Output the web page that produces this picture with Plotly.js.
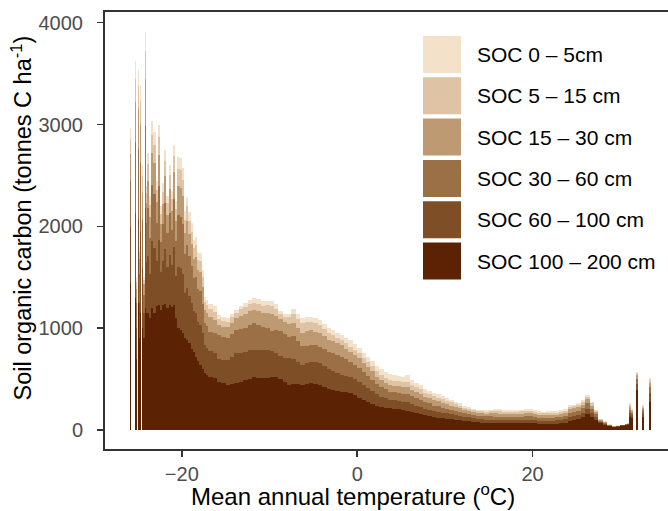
<!DOCTYPE html>
<html><head><meta charset="utf-8">
<script src="https://cdn.plot.ly/plotly-3.0.1.min.js"></script>
<style>html,body{margin:0;padding:0;background:#fff}#chart{width:668px;height:511px}</style>
</head><body><div id="chart"></div>
<script>
// Mean annual temperature bins (left edge, degC)
const tempBins = [-26,-25.875,-25.75,-25.625,-25.5,-25.375,-25.25,-25.125,-25,-24.875,-24.75,-24.625,-24.5,-24.375,-24.25,-24.125,
-24,-23.75,-23.5,-23.25,-23,-22.75,-22.5,-22.25,-22,-21.75,-21.5,-21.25,-21,-20.75,-20.5,-20.25,-20,-19.75,-19.5,-19.25,-19,-18.75,-18.5,-18.25,-18,-17.75,-17.5,-17.25,
-17,-16.5,-16,-15.5,-15,-14.5,-14,-13.5,-13,-12.5,-12,-11.5,-11,-10.5,-10,-9.5,-9,-8.5,-8,-7.5,-7,-6.5,-6,-5.5,-5,-4.5,-4,-3.5,-3,-2.5,-2,-1.5,-1,-0.5,0,0.5,1,1.5,2,2.5,3,3.5,4,4.5,5,5.5,6,6.5,7,7.5,8,8.5,9,9.5,10,10.5,11,11.5,12,12.5,13,13.5,14,14.5,15,15.5,16,16.5,17,17.5,18,18.5,19,19.5,20,20.5,21,21.5,22,22.5,23,23.5,24,24.5,25,25.5,26,26.5,27,27.5,28,28.5,29,29.5,30,
30.5,30.75,31,31.25,31.5,31.75,32,32.25,32.5,32.75,33,33.25];

// Soil organic carbon per depth layer (tonnes C / ha)
const soc100_200 = [0,1440,0,0,0,1300,700,0,1250,900,1150,0,1000,900,1200,1150,
1150,1100,1200,1150,1220,1230,1180,1230,1240,1200,1230,1210,1230,1100,1000,980,950,900,880,850,800,770,720,680,640,600,560,540,
520,508,470,459,442,450,459,475,491,505,520,515,508,515,520,525,500,470,440,455,450,442,450,459,450,442,420,400,390,380,376,368,360,340,311,295,275,258,240,228,220,213,208,205,196,190,180,168,155,145,135,124,120,115,110,104,98,94,88,84,78,75,72,70,68,66,66,65,65,64,65,65,66,66,64,62,60,60,62,63,66,72,90,100,108,125,160,125,98,65,50,35,26,32,40,
45,50,131,120,0,393,0,0,131,0,0,278];
const soc60_100 = [0,550,0,0,0,830,300,0,820,350,800,0,580,250,980,500,
560,430,660,640,440,640,370,430,540,400,490,410,565,415,605,610,585,450,510,465,445,395,425,385,395,350,270,265,
260,252,230,231,246,270,294,285,279,280,270,275,278,270,260,235,230,240,262,245,220,198,205,212,215,213,205,195,185,175,164,162,164,160,164,150,140,127,110,97,90,82,82,80,82,80,75,72,70,65,65,61,58,55,52,51,47,46,42,40,37,35,33,32,32,32,31,30,30,30,30,31,32,32,31,30,30,30,30,30,32,34,40,40,42,45,50,45,32,15,10,7,4,4,5,
5,6,39,30,0,57,0,0,34,0,0,82];
const soc30_60 = [0,460,0,0,0,700,250,0,690,280,670,0,480,180,810,380,
470,360,550,530,370,530,300,360,450,330,410,340,470,345,505,505,485,375,425,390,370,330,355,320,330,290,225,220,
180,190,230,225,212,220,229,230,230,245,260,240,229,215,196,225,245,230,208,225,200,180,173,164,165,163,170,175,180,180,175,165,147,140,131,120,115,110,105,97,88,81,80,80,80,80,75,72,70,60,60,55,54,50,48,45,45,40,38,36,33,30,32,33,34,34,33,33,33,33,33,34,35,35,33,30,30,30,30,30,32,34,40,40,40,42,50,40,30,12,10,5,3,4,3,
5,4,30,20,0,50,0,0,30,0,0,60];
const soc15_30 = [0,260,0,0,0,390,130,0,390,150,380,0,270,100,460,200,
270,200,310,300,210,300,175,200,260,185,235,195,270,195,285,285,275,210,240,220,210,185,200,182,185,165,128,125,
150,130,100,100,110,110,115,130,140,135,130,135,131,145,162,135,115,120,131,130,130,135,142,147,135,132,125,118,115,115,115,105,98,100,98,95,85,80,70,66,64,66,65,65,67,70,60,58,55,55,52,50,48,45,42,40,35,32,30,30,26,25,25,25,28,33,30,30,29,29,30,30,32,33,30,28,27,28,28,27,30,30,35,32,32,36,40,30,20,8,6,3,2,2,2,
3,3,25,15,0,35,0,0,25,0,0,45];
const soc5_15 = [0,150,0,0,0,230,70,0,230,70,225,0,160,40,270,100,
160,120,180,180,120,175,100,120,150,110,140,115,155,115,170,170,160,125,140,130,120,110,118,107,110,97,75,75,
80,80,60,55,50,60,53,65,70,70,70,70,74,80,82,70,50,50,65,85,90,95,88,82,85,81,75,67,60,50,50,50,49,50,49,50,50,50,50,50,50,49,50,50,50,50,50,50,50,40,40,40,38,35,33,30,30,28,22,20,20,20,20,20,22,25,24,22,21,22,22,22,25,24,22,18,18,18,18,18,20,20,25,24,23,27,25,20,10,5,4,2,1,1,1,
2,1,20,12,0,20,0,0,15,0,0,27];
const soc0_5 = [0,110,0,0,0,170,50,0,160,50,165,0,110,30,190,70,
110,90,130,130,90,125,75,85,110,75,100,80,110,80,120,118,115,90,97,90,85,76,81,78,76,70,52,55,
50,55,40,43,40,30,30,30,37,45,50,50,44,45,48,45,30,30,32,45,50,50,50,49,50,49,50,50,50,50,50,55,66,55,49,50,55,55,55,57,53,54,50,50,50,70,51,45,42,35,33,30,32,30,27,25,23,22,20,20,16,15,14,16,16,20,21,18,18,17,17,18,20,18,20,17,15,16,15,14,18,15,20,14,15,17,15,15,8,5,4,2,1,1,1,
2,1,15,8,0,14,0,0,9,0,0,18];

const seriesNames = ['SOC 0 – 5cm','SOC 5 – 15 cm','SOC 15 – 30 cm','SOC 30 – 60 cm','SOC 60 – 100 cm','SOC 100 – 200 cm'];
const seriesValues = [soc0_5, soc5_15, soc15_30, soc30_60, soc60_100, soc100_200];
const seriesColors = ['#F3E1CA','#DEC3A4','#BD9A71','#9C7046','#7E4F27','#5B2304'];

const yTicks = [0,1000,2000,3000,4000];
const xTicks = [-20,0,20];
const xTitle = 'Mean annual temperature (<sup>o</sup>C)';
const yTitle = 'Soil organic carbon (tonnes C ha<sup>-1</sup>)';

// bar widths from the spacing of the bins
const widths = tempBins.map((t,i)=> i<tempBins.length-1 ? tempBins[i+1]-t : 0.25);

const traces = [];
for (let k = seriesValues.length-1; k >= 0; k--) {
  traces.push({
    type:'bar', x: tempBins, y: seriesValues[k], width: widths, offset: 0,
    name: seriesNames[k], marker:{color: seriesColors[k], line:{width:0}},
    hoverinfo:'skip'
  });
}

// pixel geometry of the figure
const W = 668, H = 511, ML = 105, MR = 0, MT = 12, MB = 62;
const pw = W-ML-MR, ph = H-MT-MB;
const px = v => (v-ML)/pw, py = v => (H-MB-v)/ph;

const shapes = [], annotations = [];
const keyX0 = 423, keyX1 = 461, keyTop = 36, keyH = 37, keyStep = 41.3;
seriesNames.forEach((nm,i)=>{
  const t = keyTop + i*keyStep;
  shapes.push({type:'rect', xref:'paper', yref:'paper', x0:px(keyX0), x1:px(keyX1), y0:py(t+keyH), y1:py(t),
    fillcolor: seriesColors[i], line:{width:0}, layer:'above'});
  annotations.push({xref:'paper', yref:'paper', x:px(475), y:py(t+keyH/2), xanchor:'left', yanchor:'middle',
    text:nm, showarrow:false, font:{size:21, color:'#000'}});
});
// axis titles
annotations.push({xref:'paper', yref:'paper', x:px(352.5), y:py(495), xanchor:'center', yanchor:'middle',
  text:xTitle, showarrow:false, font:{size:24, color:'#000'}});
annotations.push({xref:'paper', yref:'paper', x:px(21.5), y:py(218), xanchor:'center', yanchor:'middle',
  text:yTitle, textangle:-90, showarrow:false, font:{size:23.5, color:'#000'}});

const layout = {
  width:W, height:H, margin:{l:ML, r:MR, t:MT, b:MB},
  barmode:'stack', bargap:0, showlegend:false,
  paper_bgcolor:'#fff', plot_bgcolor:'#fff',
  font:{family:'"Liberation Sans", Arial, Helvetica, sans-serif', color:'#000'},
  xaxis:{range:[-28.76,35.44], tickvals:xTicks, ticktext:xTicks.map(v=> v<0 ? '\u2212'+Math.abs(v) : String(v)),
    ticks:'outside', ticklen:6, tickwidth:1.6, tickcolor:'#333',
    showline:true, linecolor:'#333', linewidth:2, mirror:true, showgrid:false, zeroline:false,
    tickfont:{size:20, color:'#4d4d4d'}},
  yaxis:{range:[-187,4105], tickvals:yTicks, ticktext:yTicks.map(String),
    ticks:'outside', ticklen:6, tickwidth:1.6, tickcolor:'#333', ticklabelstandoff:10,
    showline:true, linecolor:'#333', linewidth:2, mirror:false, showgrid:false, zeroline:false,
    tickfont:{size:20, color:'#4d4d4d'}},
  shapes: shapes, annotations: annotations
};

Plotly.newPlot('chart', traces, layout, {staticPlot:true, displayModeBar:false});
</script></body></html>
